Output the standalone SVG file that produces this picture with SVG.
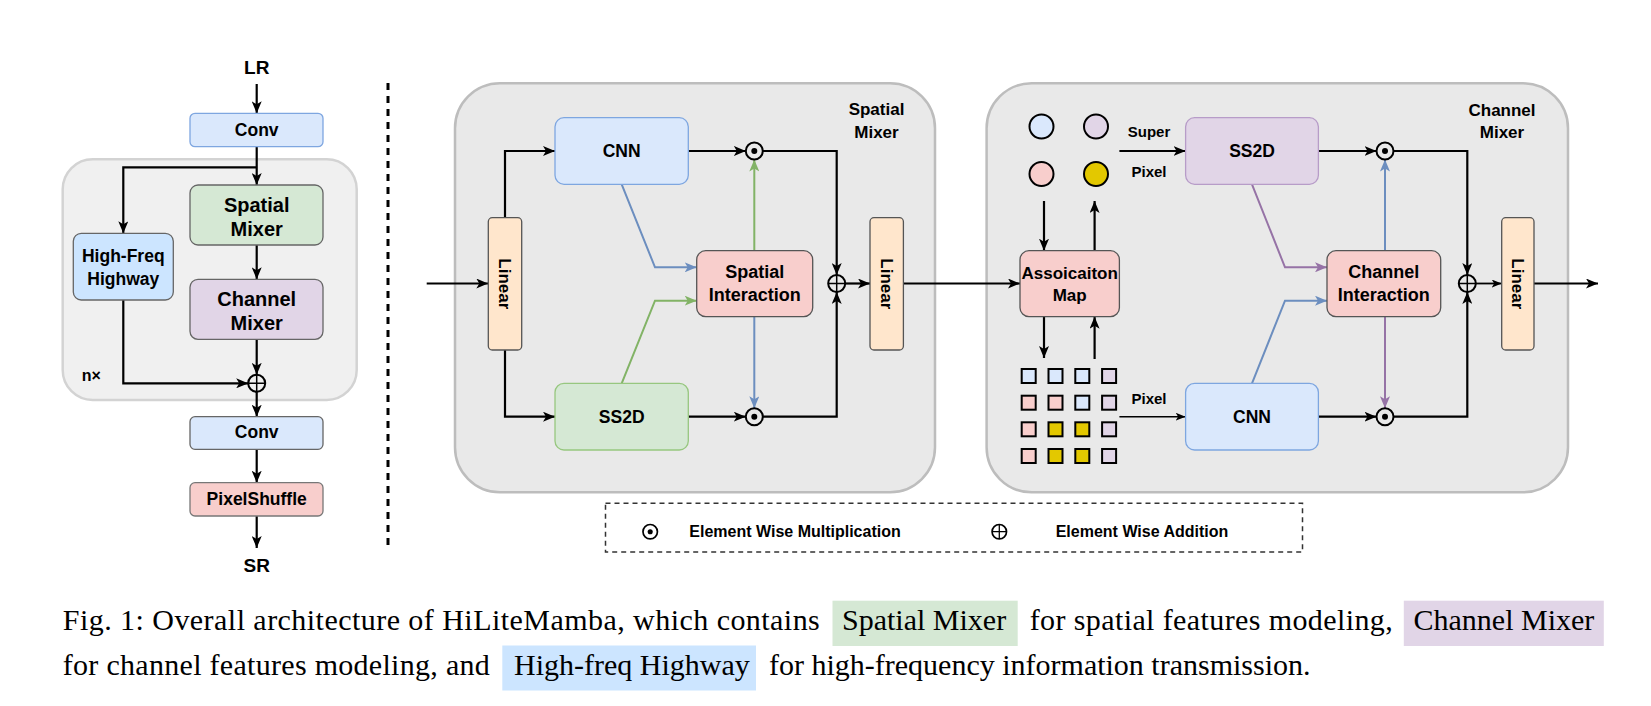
<svg xmlns="http://www.w3.org/2000/svg" width="1651" height="706" viewBox="0 0 1651 706">
<style>
.t{font-family:"Liberation Sans",Arial,Helvetica,sans-serif;font-weight:bold;fill:#000;text-anchor:middle}
.ln{fill:none;stroke:#000;stroke-width:2.2}
.lnb{fill:none;stroke:#6c8ebf;stroke-width:2}
.lng{fill:none;stroke:#82b366;stroke-width:2}
.lnp{fill:none;stroke:#9673a6;stroke-width:2}
.op{fill:none;stroke:#000;stroke-width:2}
.cap{font-family:"Liberation Serif","Times New Roman",serif;font-size:30px;fill:#000}
.blue{fill:#dae8fc;stroke:#7ea6e0;stroke-width:1.3}
.green{fill:#d5e8d4;stroke:#97c77f;stroke-width:1.3}
.purple{fill:#e1d5e7;stroke:#b79cc8;stroke-width:1.3}
.red{fill:#f8cecc;stroke:#555;stroke-width:1.3}
.orange{fill:#ffe6cc;stroke:#555;stroke-width:1.3}
</style>
<defs>
<marker id="ah" markerUnits="userSpaceOnUse" markerWidth="12" markerHeight="10" refX="12" refY="5" orient="auto"><path d="M0,0 L12,5 L0,10 L3,5 z" fill="#000"/></marker>
<marker id="ahs" markerUnits="userSpaceOnUse" markerWidth="10" markerHeight="8" refX="10" refY="4" orient="auto"><path d="M0,0 L10,4 L0,8 L2.5,4 z" fill="#000"/></marker>
<marker id="ahb" markerUnits="userSpaceOnUse" markerWidth="12" markerHeight="10" refX="12" refY="5" orient="auto"><path d="M0,0 L12,5 L0,10 L3,5 z" fill="#6c8ebf"/></marker>
<marker id="ahg" markerUnits="userSpaceOnUse" markerWidth="12" markerHeight="10" refX="12" refY="5" orient="auto"><path d="M0,0 L12,5 L0,10 L3,5 z" fill="#82b366"/></marker>
<marker id="ahp" markerUnits="userSpaceOnUse" markerWidth="12" markerHeight="10" refX="12" refY="5" orient="auto"><path d="M0,0 L12,5 L0,10 L3,5 z" fill="#9673a6"/></marker>
<g id="odot"><circle r="8.5" class="op"/><circle r="3" fill="#000"/></g>
<g id="oplus"><circle r="8.5" class="op"/><path d="M-8.5,0 H8.5 M0,-8.5 V8.5" stroke="#000" stroke-width="1.5"/></g>
</defs>
<rect width="1651" height="706" fill="#fff"/>

<!-- containers -->
<g id="block-container"><rect x="62.7" y="159.3" width="294" height="240.7" rx="30" fill="#f0f0f0" stroke="#d3d3d3" stroke-width="2.5"/>
<text class="t" x="81.7" y="381" style="font-size:16px;text-anchor:start">n×</text></g>
<g id="spatial-mixer"><rect x="455" y="83.3" width="480" height="409" rx="45" fill="#e9e9e9" stroke="#bdbdbd" stroke-width="2.5"/>
<text class="t" x="876.5" y="114.5" style="font-size:17px">Spatial</text><text class="t" x="876.5" y="137.8" style="font-size:17px">Mixer</text></g>
<g id="channel-mixer"><rect x="986.6" y="83.3" width="581.4" height="409" rx="45" fill="#e9e9e9" stroke="#bdbdbd" stroke-width="2.5"/>
<text class="t" x="1502" y="116" style="font-size:17px">Channel</text><text class="t" x="1502" y="137.8" style="font-size:17px">Mixer</text></g>

<!-- separator -->
<line x1="388" y1="83" x2="388" y2="550" stroke="#000" stroke-width="3" stroke-dasharray="7 6"/>

<!-- connectors -->
<g id="connectors">
<path class="ln" d="M256.7,84 V113.3" marker-end="url(#ah)"/>
<path class="ln" d="M256.7,146.7 V185" marker-end="url(#ah)"/>
<path class="ln" d="M256.7,167.3 H123.3 V233.3" marker-end="url(#ah)"/>
<path class="ln" d="M256.7,245 V279.3" marker-end="url(#ah)"/>
<path class="ln" d="M256.7,339.3 V374.8" marker-end="url(#ah)"/>
<path class="ln" d="M123.3,300 V383.3 H248.2" marker-end="url(#ah)"/>
<path class="ln" d="M256.7,391.8 V416.7" marker-end="url(#ah)"/>
<path class="ln" d="M256.7,449.3 V482.7" marker-end="url(#ah)"/>
<path class="ln" d="M256.7,516 V548" marker-end="url(#ah)"/>

<path class="ln" d="M426.7,283.5 H488.3" marker-end="url(#ah)"/>
<path class="ln" d="M505,217.7 V151 H555" marker-end="url(#ah)"/>
<path class="ln" d="M505,350 V416.7 H555" marker-end="url(#ah)"/>
<path class="ln" d="M688.3,151 H745.8" marker-end="url(#ah)"/>
<path class="ln" d="M688.3,416.7 H745.8" marker-end="url(#ah)"/>
<path class="ln" d="M762.8,151 H836.7 V275" marker-end="url(#ah)"/>
<path class="ln" d="M762.8,416.7 H836.7 V292" marker-end="url(#ah)"/>
<path class="ln" d="M845.2,283.5 H870" marker-end="url(#ah)"/>
<path class="lnb" d="M621.7,184.3 L655,267.3 H696.7" marker-end="url(#ahb)"/>
<path class="lng" d="M621.7,383.3 L655,300.7 H696.7" marker-end="url(#ahg)"/>
<path class="lng" d="M754.3,250.7 V159.5" marker-end="url(#ahg)"/>
<path class="lnb" d="M754.3,316.7 V408.2" marker-end="url(#ahb)"/>

<path class="ln" d="M903.3,283.5 H1020" marker-end="url(#ah)"/>
<path class="ln" d="M1044,201 V250.7" marker-end="url(#ah)"/>
<path class="ln" d="M1094.6,250.7 V201" marker-end="url(#ah)"/>
<path class="ln" d="M1044,316.7 V358" marker-end="url(#ah)"/>
<path class="ln" d="M1094.6,359 V316.7" marker-end="url(#ah)"/>
<path class="ln" d="M1119.4,151 H1185.6" marker-end="url(#ah)"/>
<path class="ln" d="M1119.4,416.7 H1185.6" style="stroke-width:1.5" marker-end="url(#ahs)"/>
<path class="ln" d="M1318.4,151 H1376.5" marker-end="url(#ah)"/>
<path class="ln" d="M1318.4,416.7 H1376.5" marker-end="url(#ah)"/>
<path class="ln" d="M1393.5,151 H1467.3 V275" marker-end="url(#ah)"/>
<path class="ln" d="M1393.5,416.7 H1467.3 V292" marker-end="url(#ah)"/>
<path class="ln" d="M1475.8,283.5 H1501.7" style="stroke-width:1.8" marker-end="url(#ahs)"/>
<path class="ln" d="M1534,283.5 H1598" marker-end="url(#ah)"/>
<path class="lnp" d="M1252,184.3 L1285,267.3 H1327" marker-end="url(#ahp)"/>
<path class="lnb" d="M1252,383.3 L1285,300.7 H1327" marker-end="url(#ahb)"/>
<path class="lnb" d="M1385,250.7 V159.5" marker-end="url(#ahb)"/>
<path class="lnp" d="M1385,316.7 V408.2" marker-end="url(#ahp)"/>
</g>

<!-- left column nodes -->
<g id="lr"><text class="t" x="256.7" y="74" style="font-size:19px">LR</text></g>
<g id="conv-in"><rect x="190" y="113.3" width="133" height="33.4" rx="5" class="blue"/><text class="t" x="256.7" y="136" style="font-size:17.5px">Conv</text></g>
<g id="spatial-mixer-node"><rect x="190" y="185" width="133" height="60" rx="8" fill="#d5e8d4" stroke="#666" stroke-width="1.3"/><text class="t" x="256.7" y="211.7" style="font-size:20px">Spatial</text><text class="t" x="256.7" y="236" style="font-size:20px">Mixer</text></g>
<g id="channel-mixer-node"><rect x="190" y="279.3" width="133" height="60" rx="8" fill="#e1d5e7" stroke="#666" stroke-width="1.3"/><text class="t" x="256.7" y="305.5" style="font-size:20px">Channel</text><text class="t" x="256.7" y="330" style="font-size:20px">Mixer</text></g>
<g id="highway"><rect x="73.3" y="233.3" width="100" height="66.7" rx="8" fill="#cce5ff" stroke="#666" stroke-width="1.3"/><text class="t" x="123.3" y="262" style="font-size:17.5px">High-Freq</text><text class="t" x="123.3" y="284.6" style="font-size:17.5px">Highway</text></g>
<g id="add-left"><use href="#oplus" x="256.7" y="383.3"/></g>
<g id="conv-out"><rect x="190" y="416.7" width="133" height="32.6" rx="5" fill="#dae8fc" stroke="#666" stroke-width="1.3"/><text class="t" x="256.7" y="437.8" style="font-size:17.5px">Conv</text></g>
<g id="pixelshuffle"><rect x="190" y="482.7" width="133" height="33.3" rx="5" fill="#f8cecc" stroke="#777" stroke-width="1.3"/><text class="t" x="256.7" y="505" style="font-size:17.5px">PixelShuffle</text></g>
<g id="sr"><text class="t" x="256.7" y="571.5" style="font-size:19px">SR</text></g>

<!-- spatial mixer nodes -->
<g id="linear-1"><rect x="488.3" y="217.7" width="33.4" height="132.3" rx="4" class="orange"/><text class="t" transform="translate(505,283.85) rotate(90)" dy="0.36em" style="font-size:17px">Linear</text></g>
<g id="cnn-s"><rect x="555" y="117.7" width="133.3" height="66.6" rx="9" class="blue"/><text class="t" x="621.7" y="157.2" style="font-size:17.5px">CNN</text></g>
<g id="ss2d-s"><rect x="555" y="383.3" width="133.3" height="66.7" rx="9" class="green"/><text class="t" x="621.7" y="423" style="font-size:17.5px">SS2D</text></g>
<g id="spatial-interaction"><rect x="696.7" y="250.7" width="116" height="66" rx="9" class="red"/><text class="t" x="754.7" y="278" style="font-size:18px">Spatial</text><text class="t" x="754.7" y="300.7" style="font-size:18px">Interaction</text></g>
<g id="mul-s1"><use href="#odot" x="754.3" y="151"/></g>
<g id="mul-s2"><use href="#odot" x="754.3" y="416.7"/></g>
<g id="add-s"><use href="#oplus" x="836.7" y="283.5"/></g>
<g id="linear-2"><rect x="870" y="217.7" width="33.4" height="132.3" rx="4" class="orange"/><text class="t" transform="translate(886.7,283.85) rotate(90)" dy="0.36em" style="font-size:17px">Linear</text></g>

<!-- channel mixer nodes -->
<g id="super-pixels">
<circle cx="1041.5" cy="126.5" r="12" fill="#dae8fc" stroke="#000" stroke-width="2"/>
<circle cx="1096" cy="126.5" r="12" fill="#e1d5e7" stroke="#000" stroke-width="2"/>
<circle cx="1041.5" cy="174" r="12" fill="#f8cecc" stroke="#000" stroke-width="2"/>
<circle cx="1096" cy="174" r="12" fill="#e3c800" stroke="#000" stroke-width="2"/>
</g>
<g id="association-map"><rect x="1020" y="250.7" width="99.4" height="66" rx="9" class="red"/><text class="t" x="1069.7" y="278.5" style="font-size:17px">Assoicaiton</text><text class="t" x="1069.7" y="301" style="font-size:17px">Map</text></g>
<g id="pixels" stroke="#000" stroke-width="2">
<rect x="1021.7" y="369" width="14" height="14" fill="#dae8fc"/><rect x="1048.5" y="369" width="14" height="14" fill="#dae8fc"/><rect x="1075.3" y="369" width="14" height="14" fill="#dae8fc"/><rect x="1102.1" y="369" width="14" height="14" fill="#e1d5e7"/>
<rect x="1021.7" y="395.7" width="14" height="14" fill="#f8cecc"/><rect x="1048.5" y="395.7" width="14" height="14" fill="#f8cecc"/><rect x="1075.3" y="395.7" width="14" height="14" fill="#dae8fc"/><rect x="1102.1" y="395.7" width="14" height="14" fill="#e1d5e7"/>
<rect x="1021.7" y="422.3" width="14" height="14" fill="#f8cecc"/><rect x="1048.5" y="422.3" width="14" height="14" fill="#e3c800"/><rect x="1075.3" y="422.3" width="14" height="14" fill="#e3c800"/><rect x="1102.1" y="422.3" width="14" height="14" fill="#e1d5e7"/>
<rect x="1021.7" y="449" width="14" height="14" fill="#f8cecc"/><rect x="1048.5" y="449" width="14" height="14" fill="#e3c800"/><rect x="1075.3" y="449" width="14" height="14" fill="#e3c800"/><rect x="1102.1" y="449" width="14" height="14" fill="#e1d5e7"/>
</g>
<g id="labels-pixel">
<text class="t" x="1149" y="136.5" style="font-size:15px">Super</text>
<text class="t" x="1149" y="177" style="font-size:15px">Pixel</text>
<text class="t" x="1149" y="404" style="font-size:15px">Pixel</text>
</g>
<g id="ss2d-c"><rect x="1185.6" y="117.7" width="132.8" height="66.6" rx="9" class="purple"/><text class="t" x="1252" y="157.2" style="font-size:17.5px">SS2D</text></g>
<g id="cnn-c"><rect x="1185.6" y="383.3" width="132.8" height="66.7" rx="9" class="blue"/><text class="t" x="1252" y="423" style="font-size:17.5px">CNN</text></g>
<g id="channel-interaction"><rect x="1327" y="250.7" width="113.7" height="66" rx="9" class="red"/><text class="t" x="1383.8" y="278" style="font-size:18px">Channel</text><text class="t" x="1383.8" y="300.7" style="font-size:18px">Interaction</text></g>
<g id="mul-c1"><use href="#odot" x="1385" y="151"/></g>
<g id="mul-c2"><use href="#odot" x="1385" y="416.7"/></g>
<g id="add-c"><use href="#oplus" x="1467.3" y="283.5"/></g>
<g id="linear-3"><rect x="1501.7" y="217.7" width="32.3" height="132.3" rx="4" class="orange"/><text class="t" transform="translate(1517.85,283.85) rotate(90)" dy="0.36em" style="font-size:17px">Linear</text></g>

<!-- legend -->
<g id="legend">
<rect x="605.5" y="503.3" width="697" height="48.7" fill="none" stroke="#333" stroke-width="1.5" stroke-dasharray="5 4"/>
<use href="#odot" x="650.2" y="531.7" transform="translate(650.2,531.7) scale(0.85) translate(-650.2,-531.7)"/>
<text class="t" x="689.3" y="537" style="font-size:16px;text-anchor:start">Element Wise Multiplication</text>
<use href="#oplus" x="999.3" y="531.7" transform="translate(999.3,531.7) scale(0.85) translate(-999.3,-531.7)"/>
<text class="t" x="1055.7" y="537" style="font-size:16px;text-anchor:start">Element Wise Addition</text>
</g>

<!-- caption -->
<g id="caption">
<rect x="832.5" y="600.7" width="185.2" height="45.3" fill="#d5e8d4"/>
<rect x="1403.8" y="600.7" width="200" height="45.3" fill="#e1d5e7"/>
<rect x="502.3" y="645.5" width="253.7" height="45" fill="#cce5ff"/>
<text class="cap" x="62.8" y="630" textLength="757" lengthAdjust="spacing">Fig. 1: Overall architecture of HiLiteMamba, which contains</text>
<text class="cap" x="842" y="630">Spatial Mixer</text>
<text class="cap" x="1029.7" y="630" textLength="363" lengthAdjust="spacing">for spatial features modeling,</text>
<text class="cap" x="1413.5" y="630">Channel Mixer</text>
<text class="cap" x="62.8" y="674.5" textLength="427" lengthAdjust="spacing">for channel features modeling, and</text>
<text class="cap" x="514" y="674.5">High-freq Highway</text>
<text class="cap" x="769" y="674.5">for high-frequency information transmission.</text>
</g>
</svg>
